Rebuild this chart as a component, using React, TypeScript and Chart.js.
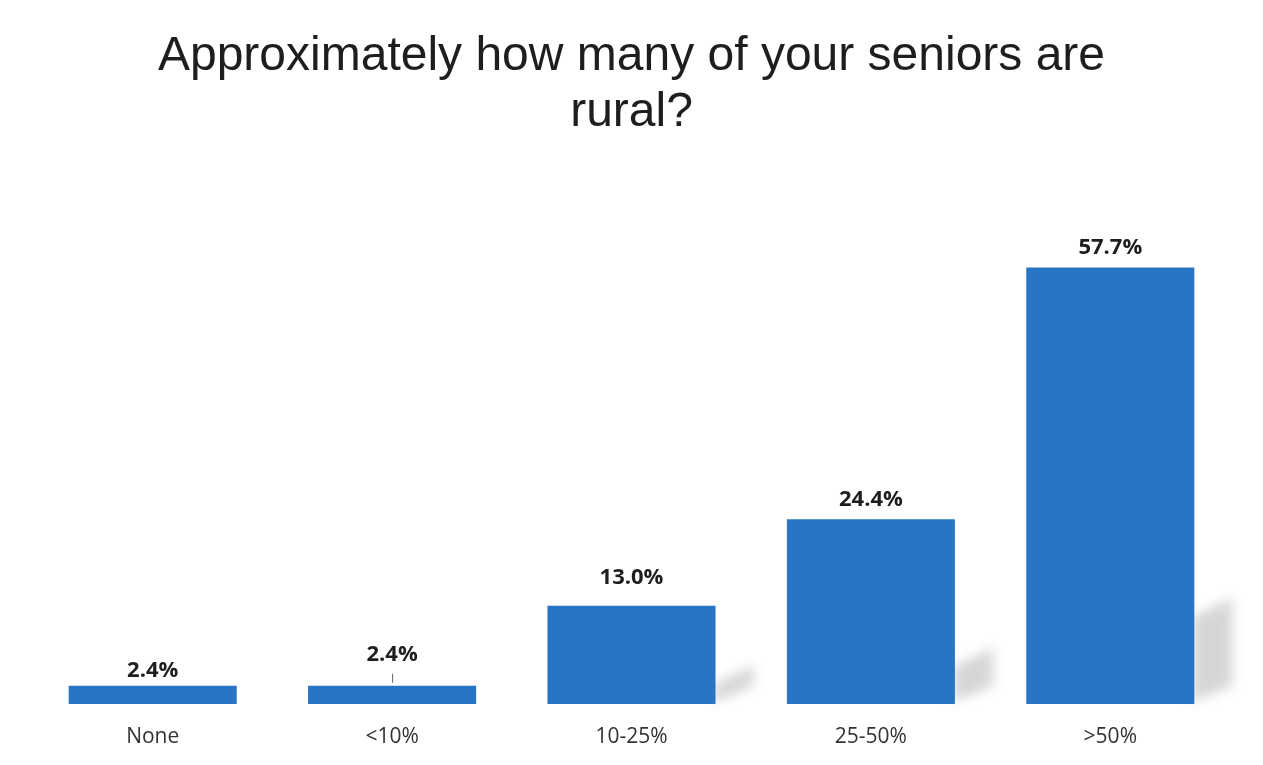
import React, { useEffect, useRef } from "react";
import { Chart, registerables } from "chart.js";

Chart.register(...registerables);

const titleLines = ["Approximately how many of your seniors are", "rural?"];
const categories = ["None", "<10%", "10-25%", "25-50%", ">50%"];
const values = [2.4, 2.4, 13.0, 24.4, 57.7];
const valueLabels = ["2.4%", "2.4%", "13.0%", "24.4%", "57.7%"];

const BAR_COLOR = "#2A74C5";

const shadowPlugin = {
  id: "barShadows",
  beforeDatasetsDraw(chart: any) {
    const ctx = chart.ctx;
    const meta = chart.getDatasetMeta(0);
    ctx.save();
    ctx.filter = "blur(6px)";
    ctx.fillStyle = "rgba(0,0,0,0.16)";
    meta.data.forEach((bar: any) => {
      const h = bar.base - bar.y;
      if (h < 50) return;
      const R = bar.x + bar.width / 2;
      const B = bar.base;
      const hs = h * 0.2;
      const ws = 38;
      ctx.beginPath();
      ctx.moveTo(R - 2, B - 2);
      ctx.lineTo(R - 2, B - hs);
      ctx.lineTo(R + ws, B - hs - ws * 0.5);
      ctx.lineTo(R + ws, B - 18);
      ctx.closePath();
      ctx.fill();
    });
    ctx.restore();
  },
};

const dataLabelPlugin = {
  id: "dataLabels",
  afterDatasetsDraw(chart: any, _args: any, opts: any) {
    const ctx = chart.ctx;
    const meta = chart.getDatasetMeta(0);
    const nudges: number[] = opts.nudges || [];
    const leaders: boolean[] = opts.leaders || [];
    ctx.save();
    ctx.font = "bold 22px 'Open Sans'";
    ctx.fillStyle = "#1e1e1e";
    ctx.textAlign = "center";
    ctx.textBaseline = "alphabetic";
    meta.data.forEach((bar: any, i: number) => {
      const off = opts.offset + (nudges[i] || 0);
      ctx.fillText(valueLabels[i], bar.x, bar.y - off);
      if (leaders[i]) {
        ctx.strokeStyle = "#666";
        ctx.lineWidth = 1;
        ctx.beginPath();
        ctx.moveTo(bar.x + 0.5, bar.y - off + 13);
        ctx.lineTo(bar.x + 0.5, bar.y - 3);
        ctx.stroke();
      }
    });
    ctx.restore();
  },
};

export default function App() {
  const ref = useRef<HTMLCanvasElement | null>(null);
  useEffect(() => {
    if (!ref.current) return;
    const chart = new Chart(ref.current, {
      type: "bar",
      data: {
        labels: categories,
        datasets: [
          {
            data: values,
            backgroundColor: BAR_COLOR,
            borderWidth: 0,
            barPercentage: 0.702,
            categoryPercentage: 1,
          },
        ],
      },
      options: {
        animation: false,
        responsive: false,
        maintainAspectRatio: false,
        layout: { padding: { left: 33, right: 33, top: 0, bottom: 0 } },
        plugins: {
          legend: { display: false },
          tooltip: { enabled: false },
          title: {
            display: true,
            text: titleLines,
            color: "#1e1e1e",
            font: { family: "'Liberation Sans', Arial, sans-serif", size: 48, weight: "normal", lineHeight: 56 / 48 },
            padding: { top: 29, bottom: 109 },
          },
          dataLabels: { offset: 13, nudges: [-4, 12, 9, 0, 0], leaders: [false, true, false, false, false] },
        } as any,
        scales: {
          x: {
            grid: { display: false, drawTicks: false },
            border: { display: false },
            afterFit: (scale: any) => {
              scale.height = 61;
            },
            ticks: {
              color: "#333",
              padding: 20,
              font: { family: "'Open Sans', sans-serif", size: 21 },
            },
          },
          y: {
            display: false,
            min: 0,
            max: 60,
          },
        },
      },
      plugins: [shadowPlugin, dataLabelPlugin],
    });
    return () => chart.destroy();
  }, []);
  return (
    <div style={{ position: "fixed", left: 0, top: 0, width: 1263, height: 765, background: "#fff" }}>
      <canvas ref={ref} width={1263} height={765} style={{ display: "block", width: 1263, height: 765 }} />
    </div>
  );
}
